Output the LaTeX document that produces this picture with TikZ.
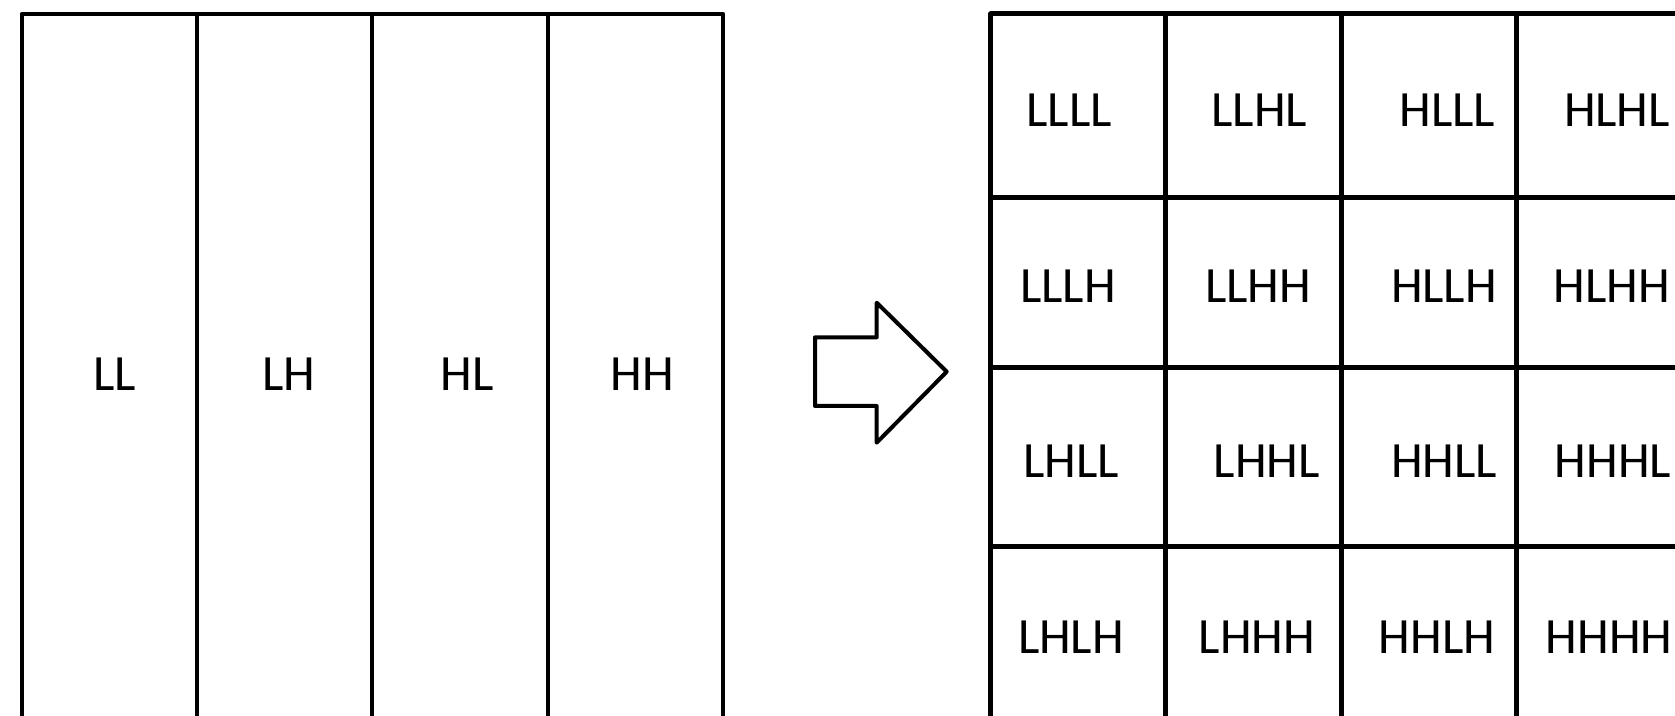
\documentclass[tikz,border=0pt]{standalone}
\usepackage{fontspec}
\setmainfont{Carlito}
\begin{document}
\begin{tikzpicture}[x=0.5pt,y=-0.5pt,
  thinline/.style={line width=2pt,line join=round,line cap=round},
  thickline/.style={line width=2.5pt,line join=round,line cap=round},
  lab/.style={inner sep=0pt,font=\fontsize{25.4}{30}\selectfont}]
\useasboundingbox (0,0) rectangle (1675,716);
\clip (0,0) rectangle (1675,716);
% left grid
\draw[thinline] (21.7,760) -- (21.7,14) -- (723.2,14) -- (723.2,760);
\foreach \x in {196.7,371.8,548}{\draw[thinline] (\x,14) -- (\x,760);}
\node[lab] (ll) at (114.7,374) {LL};
\node[lab] (lh) at (288.7,374) {LH};
\node[lab] (hl) at (466.9,374) {HL};
\node[lab] (hh) at (642,374) {HH};
% arrow
\draw[thinline] (815,337.3) -- (876.7,337.3) -- (876.7,302.7) -- (946.7,371.7)
  -- (876.7,442.7) -- (876.7,406) -- (815,406) -- cycle;
% right grid
\foreach \x in {990.7,1165.7,1341,1516}{\draw[thickline] (\x,14) -- (\x,760);}
\foreach \y in {14,197.3,367.3,546.7}{\draw[thickline] (990.7,\y) -- (1720,\y);}
\node[lab] (c11) at (1069.2,110) {LLLL};
\node[lab] (c12) at (1259.2,110) {LLHL};
\node[lab] (c13) at (1447.5,110) {HLLL};
\node[lab] (c14) at (1617,110) {HLHL};
\node[lab] (c21) at (1068,286) {LLLH};
\node[lab] (c22) at (1258,286) {LLHH};
\node[lab] (c23) at (1444,286) {HLLH};
\node[lab] (c24) at (1612,286) {HLHH};
\node[lab] (c31) at (1071.3,461) {LHLL};
\node[lab] (c32) at (1266.7,461) {LHHL};
\node[lab] (c33) at (1444,461) {HHLL};
\node[lab] (c34) at (1613,461) {HHHL};
\node[lab] (c41) at (1071,637) {LHLH};
\node[lab] (c42) at (1257,637) {LHHH};
\node[lab] (c43) at (1437,637) {HHLH};
\node[lab] (c44) at (1609,637) {HHHH};
\end{tikzpicture}
\end{document}
